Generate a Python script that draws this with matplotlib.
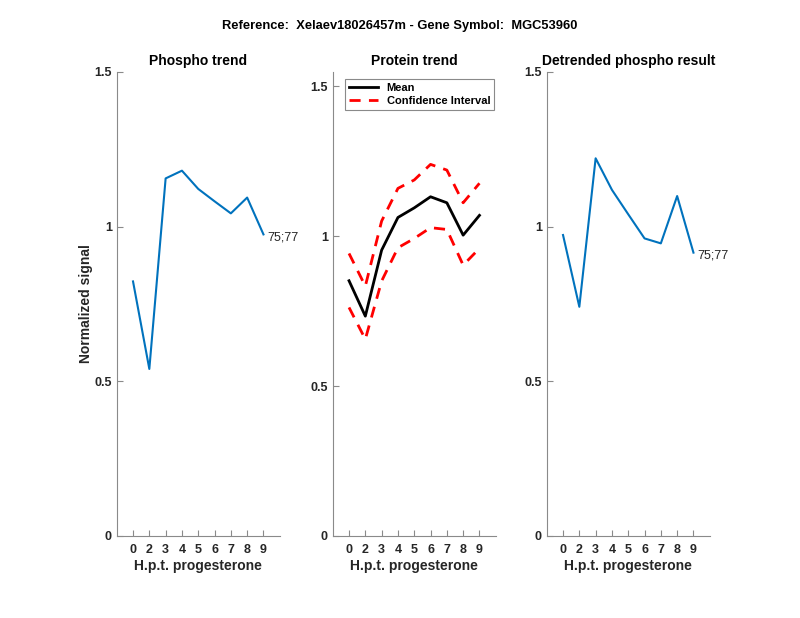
import matplotlib
matplotlib.use("Agg")
import matplotlib.pyplot as plt

plt.rcParams['font.family'] = ['Liberation Sans', 'DejaVu Sans']

# data
hours = ['0', '2', '3', '4', '5', '6', '7', '8', '9']
phospho = [0.823, 0.540, 1.156, 1.181, 1.122, 1.082, 1.043, 1.094, 0.975]
protein_mean = [0.851, 0.733, 0.953, 1.062, 1.094, 1.131, 1.111, 1.003, 1.069]
protein_upper = [0.942, 0.833, 1.050, 1.159, 1.187, 1.239, 1.220, 1.111, 1.176]
protein_lower = [0.762, 0.656, 0.850, 0.961, 0.992, 1.028, 1.022, 0.903, 0.959]
detrended = [0.973, 0.741, 1.221, 1.119, 1.040, 0.962, 0.946, 1.099, 0.916]
site_label = '75;77'

blue = '#0072BD'
axis_gray = '#8a8a8a'
text_dark = '#262626'

fig = plt.figure(figsize=(8, 6.18), dpi=100)
fig.text(0.5, 0.958, 'Reference:  Xelaev18026457m - Gene Symbol:  MGC53960',
         fontsize=9.3, fontweight='bold', ha='center', va='center',
         color='black')

lefts = [0.1459, 0.4159, 0.6834]
width, bottom, height = 0.2038, 0.1327, 0.7508
xpos = list(range(1, len(hours) + 1))


def style_axes(ax, ytop, title):
    ax.set_xlim(0, 10)
    ax.set_ylim(0, ytop)
    ax.set_xticks(xpos)
    ax.set_xticklabels(hours)
    ax.set_yticks([0, 0.5, 1, 1.5])
    ax.set_yticklabels(['0', '0.5', '1', '1.5'])
    for side in ['top', 'right']:
        ax.spines[side].set_visible(False)
    for side in ['left', 'bottom']:
        ax.spines[side].set_color(axis_gray)
        ax.spines[side].set_linewidth(0.8)
    ax.tick_params(direction='in', length=4, width=0.8, color=axis_gray,
                   labelcolor=text_dark, labelsize=9)
    ax.tick_params(axis='x', pad=6)
    ax.tick_params(axis='y', pad=3.5)
    for lbl in ax.get_xticklabels() + ax.get_yticklabels():
        lbl.set_fontweight('bold')
    ax.set_xlabel('H.p.t. progesterone', fontsize=10, fontweight='bold',
                  color=text_dark, labelpad=2)
    ax.set_title(title, fontsize=10, fontweight='bold', pad=5)


# Phospho trend
ax1 = fig.add_axes([lefts[0], bottom, width, height])
ax1.plot(xpos, phospho, color=blue, lw=1.5)
ax1.text(xpos[-1] + 0.25, phospho[-1] - 0.01, site_label, fontsize=9,
         va='center', ha='left', color=text_dark)
style_axes(ax1, 1.5, 'Phospho trend')
ax1.set_ylabel('Normalized signal', fontsize=10, fontweight='bold',
               color=text_dark, labelpad=1)

# Protein trend
ax2 = fig.add_axes([lefts[1], bottom, width, height])
ax2.plot(xpos, protein_mean, color='black', lw=2, label='Mean')
ax2.plot(xpos, protein_upper, color='red', lw=2, ls=(0, (4, 3)),
         label='Confidence Interval')
ax2.plot(xpos, protein_lower, color='red', lw=2, ls=(0, (4, 3)))
style_axes(ax2, 1.547, 'Protein trend')
leg = ax2.legend(loc='upper left', bbox_to_anchor=(0.075, 0.985),
                 borderaxespad=0, prop={'weight': 'bold', 'size': 8},
                 fancybox=False, framealpha=1, edgecolor=axis_gray,
                 handlelength=2.6, borderpad=0.35, labelspacing=0.3)
leg.get_frame().set_linewidth(0.8)

# Detrended phospho result
ax3 = fig.add_axes([lefts[2], bottom, width, height])
ax3.plot(xpos, detrended, color=blue, lw=1.5)
ax3.text(xpos[-1] + 0.25, detrended[-1] - 0.01, site_label, fontsize=9,
         va='center', ha='left', color=text_dark)
style_axes(ax3, 1.5, 'Detrended phospho result')

fig.savefig('out.png', dpi=100)
